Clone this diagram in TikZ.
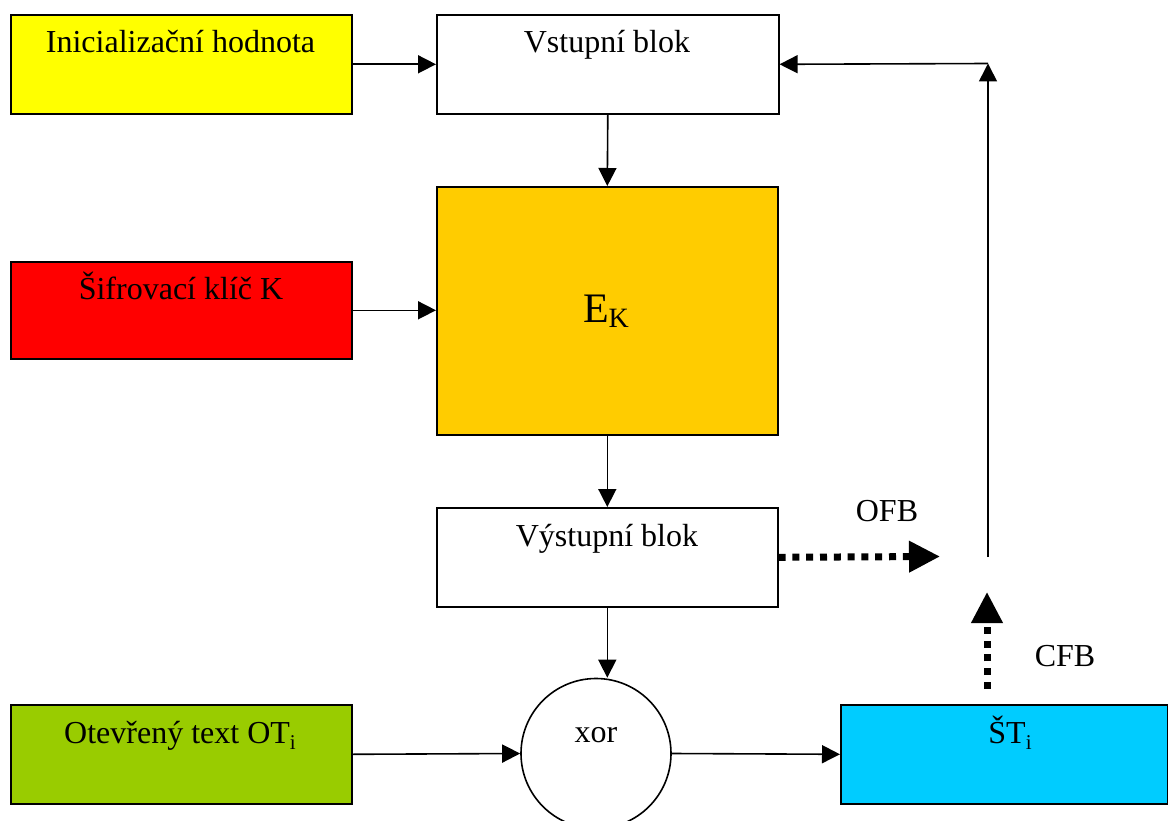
\documentclass[tikz,border=0pt]{standalone}
\usepackage{fontspec}
\setmainfont{Liberation Serif}
\usetikzlibrary{arrows.meta}
\definecolor{cyel}{HTML}{FFFF00}
\definecolor{cred}{HTML}{FF0000}
\definecolor{corange}{HTML}{FFCC00}
\definecolor{cgreen}{HTML}{99CC00}
\definecolor{ccyan}{HTML}{00CCFF}
\newcommand{\sbi}[1]{\raisebox{-6pt}{\fontsize{21}{21}\selectfont #1}}
\begin{document}
\begin{tikzpicture}[x=1pt,y=-1pt,
  box/.style={draw=black, line width=1.6pt, inner sep=0pt, anchor=north west, minimum width=#1},
  box/.default=341pt,
  txt/.style={anchor=base, inner sep=0pt, font=\fontsize{32}{36}\selectfont},
  arr/.style={line width=1.6pt, -{Triangle[length=18pt,width=18pt]}},
  dotarr/.style={line width=7pt, dash pattern=on 7pt off 6.8pt, -{Triangle[length=31pt,width=30pt]}}
]
\useasboundingbox (0,0) rectangle (1168,821);
% boxes
\node[box, fill=cyel, minimum height=99pt] (init) at (10,14) {};
\node[box, fill=white, minimum height=99pt, minimum width=342pt] (vstup) at (436,14) {};
\node[box, fill=corange, minimum height=248pt] (ek) at (436,186) {};
\node[box, fill=cred, minimum height=97pt] (key) at (10,261) {};
\node[box, fill=white, minimum height=99pt] (vyst) at (436,507) {};
\node[box, fill=cgreen, minimum height=99pt] (ot) at (10,704) {};
\node[box, fill=ccyan, minimum height=99pt, minimum width=327pt] (st) at (840,704) {};
\node[draw=black, line width=1.6pt, circle, minimum size=150pt, inner sep=0pt, fill=white] (xor) at (596,753.5) {};
% texts
\node[txt] (tinit) at (180.5,53) {Inicializační hodnota};
\node[txt] (tvstup) at (607,53) {Vstupní blok};
\node[txt] (tkey) at (181,300) {Šifrovací klíč K};
\node[anchor=base, inner sep=0pt] (tek) at (606,323) {\fontsize{42}{44}\selectfont E\raisebox{-5pt}{\fontsize{28}{28}\selectfont K}};
\node[txt] (tvyst) at (607,546) {Výstupní blok};
\node[txt] (tot) at (180,743) {Otevřený text OT\sbi{i}};
\node[txt] (tst) at (1010,743) {ŠT\sbi{i}};
\node[txt] (txor) at (596,742) {xor};
\node[txt] (tofb) at (887,521) {OFB};
\node[txt] (tcfb) at (1065,666) {CFB};
% coordinates
\coordinate (fbbot) at (988,557);
\coordinate (corner) at (988,63.5);
\coordinate (ofbend) at (940,556.5);
\coordinate (cfbend) at (987,592);
% connectors
\draw[arr] (init.east) -- (vstup.west);
\draw[arr] (vstup.south) -- (ek.north);
\draw[arr] (key.east) -- (ek.west |- key.east);
\draw[arr] (ek.south) -- (vyst.north);
\draw[arr] (vyst.south) -- (xor.north -| vyst.south);
\draw[arr] (ot.east) -- (xor.west);
\draw[arr] (xor.east) -- (st.west);
\draw[arr] (fbbot) -- (corner);
\draw[arr] (corner) -- (vstup.east);
\draw[dotarr] (vyst.east) -- (ofbend);
\draw[dotarr, shorten <=15pt] (st.north -| cfbend) -- (cfbend);
\end{tikzpicture}
\end{document}
